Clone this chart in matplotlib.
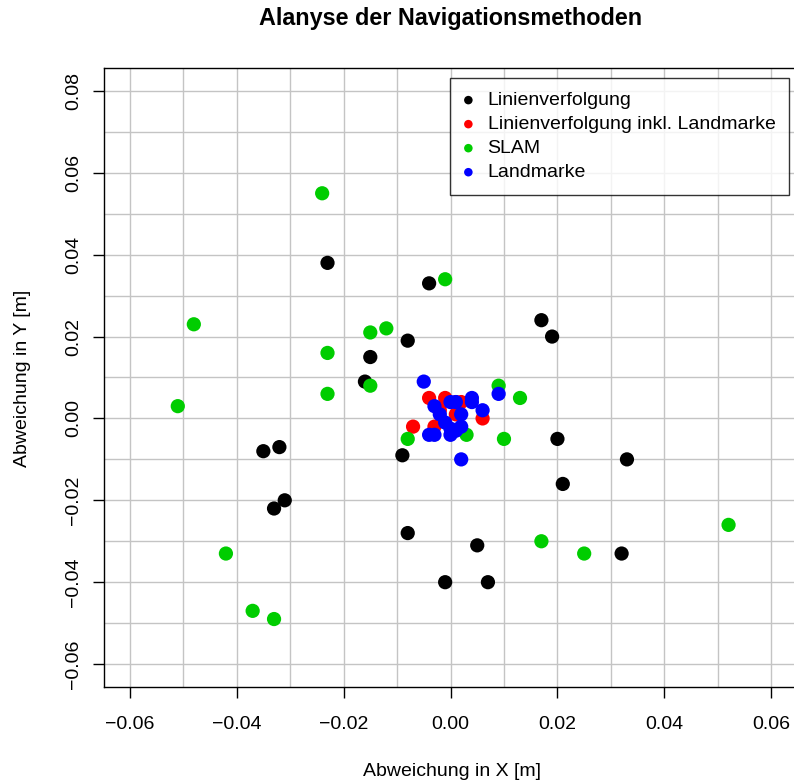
import matplotlib
matplotlib.use("Agg")
import matplotlib.pyplot as plt
import numpy as np

plt.rcParams['font.family'] = ['Liberation Sans', 'DejaVu Sans']
plt.rcParams['axes.unicode_minus'] = True

# Linienverfolgung
lin_x = [-0.023, -0.004, 0.017, 0.019, -0.008, -0.015, -0.016, 0.020, 0.033, -0.009,
         -0.035, -0.032, 0.021, -0.031, -0.033, -0.008, 0.005, 0.032, -0.001, 0.007]
lin_y = [0.038, 0.033, 0.024, 0.020, 0.019, 0.015, 0.009, -0.005, -0.010, -0.009,
         -0.008, -0.007, -0.016, -0.020, -0.022, -0.028, -0.031, -0.033, -0.040, -0.040]

# Linienverfolgung inkl. Landmarke
linlm_x = [-0.004, -0.001, -0.007, 0.006, -0.003, 0.001, 0.001, 0.002, -0.002]
linlm_y = [0.005, 0.005, -0.002, 0.000, -0.002, 0.004, 0.001, 0.004, 0.002]

# SLAM
slam_x = [-0.024, -0.001, -0.048, -0.015, -0.012, -0.023, -0.015, -0.023, -0.051, 0.009,
          0.013, -0.008, 0.010, 0.003, 0.052, 0.017, 0.025, -0.042, -0.037, -0.033]
slam_y = [0.055, 0.034, 0.023, 0.021, 0.022, 0.016, 0.008, 0.006, 0.003, 0.008,
          0.005, -0.005, -0.005, -0.004, -0.026, -0.030, -0.033, -0.033, -0.047, -0.049]

# Landmarke
lm_x = [-0.005, 0.009, 0.004, 0.004, 0.006, 0.000, 0.001, -0.003, 0.002, -0.002,
        -0.001, 0.002, -0.004, -0.003, 0.000, 0.001, 0.002, 0.000]
lm_y = [0.009, 0.006, 0.005, 0.004, 0.002, 0.004, 0.004, 0.003, 0.001, 0.001,
        -0.001, -0.002, -0.004, -0.004, -0.004, -0.003, -0.010, -0.0025]

labels = ["Linienverfolgung", "Linienverfolgung inkl. Landmarke", "SLAM", "Landmarke"]
colors = ["#000000", "#FF0000", "#00CD00", "#0000FF"]

xticks = [-0.06, -0.04, -0.02, 0.00, 0.02, 0.04, 0.06]
yticks = [-0.06, -0.04, -0.02, 0.00, 0.02, 0.04, 0.06, 0.08]

def fmt(t):
    s = "%.2f" % abs(t)
    return ("\u2212" + s) if t < -1e-12 else s

W, H = 794, 784
FS = 14
fig = plt.figure(figsize=(W / 100, H / 100), dpi=100)
ax = fig.add_axes([104 / W, 1 - 687 / H, 693 / W, (687 - 68) / H])
ax.set_xlim(-0.0648, 0.0648)
ax.set_ylim(-0.0656, 0.0856)

for v in np.arange(-0.06, 0.0601, 0.01):
    ax.axvline(v, color="#C4C4C4", lw=1.0, zorder=0)
for v in np.arange(-0.06, 0.0801, 0.01):
    ax.axhline(v, color="#C4C4C4", lw=1.0, zorder=0)

series = [(lin_x, lin_y), (linlm_x, linlm_y), (slam_x, slam_y), (lm_x, lm_y)]
for (xs, ys), c, lab in zip(series, colors, labels):
    ax.scatter(xs, ys, s=105, color=c, edgecolors='none', label=lab, zorder=3)

ax.set_xticks(xticks)
ax.set_xticklabels([fmt(t) for t in xticks], fontsize=FS)
ax.set_yticks(yticks)
ax.set_yticklabels([fmt(t) for t in yticks], fontsize=FS, rotation=90, va='center')
ax.tick_params(axis='x', length=8, width=1, pad=13)
ax.tick_params(axis='y', length=8, width=1, pad=7.5)
for sp in ax.spines.values():
    sp.set_linewidth(1)

fig.text(452 / W, 1 - 772 / H, "Abweichung in X [m]", fontsize=FS,
         ha='center', va='center')
fig.text(23 / W, 1 - 378 / H, "Abweichung in Y [m]", fontsize=FS,
         ha='center', va='center', rotation=90)
fig.text(451 / W, 1 - 18 / H, "Alanyse der Navigationsmethoden", fontsize=16.8,
         fontweight='bold', ha='center', va='center')

leg = ax.legend(loc='upper right', bbox_to_anchor=((789 - 104) / 693, (687 - 78) / 619),
                borderaxespad=0, fontsize=FS, frameon=True, fancybox=False,
                edgecolor='black', markerscale=0.6, handletextpad=0.76,
                borderpad=0.7, labelspacing=0.33, handlelength=0.45)
leg.get_frame().set_linewidth(1)

fig.savefig("out.png", dpi=100)
